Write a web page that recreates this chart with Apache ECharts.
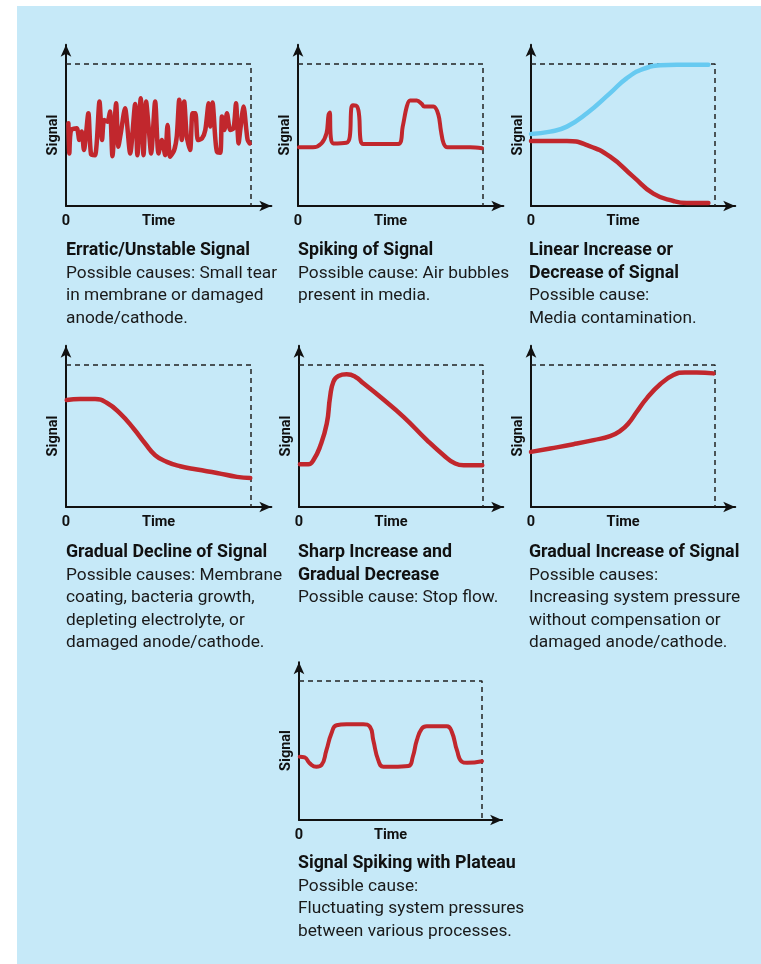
<!DOCTYPE html>
<html><head><meta charset="utf-8">
<script src="https://cdn.jsdelivr.net/npm/echarts@6/dist/echarts.min.js"></script>
<style>html,body{margin:0;padding:0;background:#fff}#c{width:761px;height:964px}</style>
</head><body><div id="c"></div>
<script>
// ---------- DATA ----------
const erraticSignal = [[1.3,58.3],[1.8,37.0],[2.7,53.5],[5.8,54.7],[7.2,46.5],[8.5,52.4],[9.7,39.4],[12.1,65.3],[13.5,36.6],[15.7,35.8],[18.1,73.6],[19.5,46.5],[20.6,60.6],[22.4,59.4],[23.8,66.5],[25.1,35.1],[27.1,72.4],[28.3,41.7],[29.6,51.2],[31.9,68.9],[34.7,37.0],[37.4,71.9],[38.6,35.8],[40.4,75.9],[41.9,35.8],[43.3,73.6],[44.8,53.5],[46.0,37.0],[48.2,73.6],[50.0,37.0],[51.8,46.5],[53.6,35.8],[54.9,57.1],[56.3,34.7],[58.5,39.4],[59.9,49.3],[61.2,74.8],[62.6,46.5],[63.9,73.6],[65.3,48.8],[67.1,39.4],[68.4,65.3],[69.9,65.3],[71.3,46.5],[73.5,47.6],[75.3,53.5],[77.1,72.4],[78.0,55.9],[79.2,72.9],[80.7,47.6],[81.6,38.2],[83.4,37.5],[84.3,63.0],[85.6,53.5],[87.0,65.3],[88.8,53.5],[90.6,54.7],[91.9,72.4],[93.3,44.1],[94.2,53.5],[96.0,70.0],[97.5,53.5],[98.2,46.5],[99.3,44.1]];
const spikingSignal = [[0.5,41.3],[8.1,41.3],[12.7,44.1],[15.4,51.2],[16.5,64.2],[17.2,65.8],[17.7,48.8],[19.0,44.1],[26.2,44.6],[28.0,48.8],[28.8,68.9],[29.8,71.0],[32.0,70.0],[33.1,63.0],[33.8,46.5],[35.3,43.6],[54.2,43.6],[56.6,55.9],[58.8,70.0],[60.6,74.3],[64.2,74.3],[66.9,71.9],[68.2,70.0],[73.2,70.0],[75.9,64.2],[77.2,53.5],[78.7,44.1],[80.8,41.3],[93.1,41.3],[99.5,40.6]];
const linearIncrease = [[0,50.7],[10.5,52.4],[19.5,55.9],[30.4,65.3],[43.0,79.5],[52.1,90.1],[61.1,96.5],[70.2,99.1],[79.2,99.5],[96.4,99.5]];
const linearDecrease = [[0,45.8],[19.5,45.8],[30.4,42.9],[43.0,34.7],[55.7,20.5],[66.5,8.7],[77.4,3.5],[84.6,2.1],[96.4,2.1]];
const gradualDecline = [[0.4,75.3],[7.6,76.0],[15.7,76.0],[22.0,73.4],[29.2,65.9],[36.5,55.3],[42.8,44.7],[48.2,36.5],[54.5,31.8],[61.7,28.7],[70.8,26.4],[81.6,24.0],[92.4,21.2],[99.6,20.5]];
const sharpIncrease = [[0.5,30.1],[5.1,30.1],[7.8,32.9],[11.4,42.4],[15.1,58.8],[16.9,77.6],[18.7,88.2],[21.4,92.2],[25.9,93.4],[30.5,91.8],[35.0,87.1],[44.1,77.6],[56.8,63.5],[69.5,47.1],[78.6,36.5],[84.9,30.6],[89.5,29.4],[99.6,29.4]];
const gradualIncrease = [[0,38.8],[10.5,41.2],[23.1,44.2],[34.0,47.1],[43.0,49.9],[48.5,53.6],[52.9,58.8],[57.5,67.1],[62.9,76.5],[70.2,86.4],[77.4,92.9],[83.7,94.8],[90.1,94.8],[99.1,94.1]];
const plateauSignal = [[0.4,45.5],[3.1,45.0],[5.9,40.7],[9.5,38.3],[12.3,39.5],[15.0,50.2],[17.7,62.2],[20.5,68.2],[26.0,68.9],[35.1,68.9],[38.8,67.0],[40.6,57.4],[43.3,43.1],[46.1,38.3],[51.6,38.3],[59.8,38.8],[62.2,45.5],[64.4,57.4],[67.1,65.8],[69.8,67.5],[80.8,67.5],[83.5,63.4],[86.3,50.2],[89.0,41.9],[91.8,41.1],[100,42.3]];
const frameLine = [[0,100],[100,100],[100,0]];

const axisLabelsX = ['0','Time'];
const axisLabelValuesX = [0, 50];
const axisLabelY = 'Signal';
const axisLabelValueY = 50;

const titles = [
  ['Erratic/Unstable Signal'],
  ['Spiking of Signal'],
  ['Linear Increase or','Decrease of Signal'],
  ['Gradual Decline of Signal'],
  ['Sharp Increase and','Gradual Decrease'],
  ['Gradual Increase of Signal'],
  ['Signal Spiking with Plateau']
];
const descriptions = [
  ['Possible causes: Small tear','in membrane or damaged','anode/cathode.'],
  ['Possible cause: Air bubbles','present in media.'],
  ['Possible cause:','Media contamination.'],
  ['Possible causes: Membrane','coating, bacteria growth,','depleting electrolyte, or','damaged anode/cathode.'],
  ['Possible cause: Stop flow.'],
  ['Possible causes:','Increasing system pressure','without compensation or','damaged anode/cathode.'],
  ['Possible cause:','Fluctuating system pressures','between various processes.']
];

// ---------- LAYOUT ----------
const RED = '#C1272D', BLUE = '#67CAF1', BG = '#C6E9F8';
const xMax = 111, yMax = 113.5;
// dashed box: left, top, width, height (pixels)
const boxes = [
  [66,64,185,142],[298,64,185,142],[531,64,184,142],
  [66,365,185,142],[299,365,184,142],[531,365,184,142],
  [299,681,183,139]
];
const textPos = [
  [66,242],[298,242],[529,242],
  [66,544],[298,544],[529,544],
  [298,855]
];
const seriesPerChart = [
  [[erraticSignal, RED, 4.5, 0.25]],
  [[spikingSignal, RED, 4, 0.35]],
  [[linearIncrease, BLUE, 4.5, 0.5],[linearDecrease, RED, 4.5, 0.5]],
  [[gradualDecline, RED, 4.5, 0.5]],
  [[sharpIncrease, RED, 4.5, 0.5]],
  [[gradualIncrease, RED, 4.5, 0.5]],
  [[plateauSignal, RED, 4, 0.5]]
];

const FONT = 'Roboto';
const grid = [], xAxis = [], yAxis = [], series = [], graphic = [];
graphic.push({type:'rect', shape:{x:17,y:6,width:744,height:958}, style:{fill:BG}, z:-10, silent:true});

boxes.forEach((b, i) => {
  grid.push({
    left: b[0], top: b[1] - b[3]*(yMax-100)/100,
    width: b[2]*xMax/100, height: b[3]*yMax/100,
    outerBoundsMode: 'none'
  });
  const axisLine = {show:true, lineStyle:{color:'#111', width:2}, symbol:['none','arrow'], symbolSize:[8,12]};
  xAxis.push({
    type:'value', gridIndex:i, min:0, max:xMax,
    axisLine, axisTick:{show:false}, splitLine:{show:false},
    axisLabel:{
      customValues: axisLabelValuesX,
      formatter: v => axisLabelsX[axisLabelValuesX.indexOf(v)],
      fontFamily: FONT, fontWeight:'bold', fontSize:14.5, color:'#111', margin:8
    }
  });
  yAxis.push({
    type:'value', gridIndex:i, min:0, max:yMax,
    axisLine, axisTick:{show:false}, splitLine:{show:false},
    axisLabel:{
      customValues:[axisLabelValueY], formatter: () => axisLabelY, rotate:90,
      fontFamily: FONT, fontWeight:'bold', fontSize:14.5, color:'#111', margin:5
    }
  });
  series.push({
    type:'line', xAxisIndex:i, yAxisIndex:i, data:frameLine, symbol:'none', silent:true,
    lineStyle:{color:'#222', width:1.5, type:[5,4]}, z:1
  });
  seriesPerChart[i].forEach(s => {
    series.push({
      type:'line', xAxisIndex:i, yAxisIndex:i, data:s[0], symbol:'none', smooth:s[3], silent:true,
      lineStyle:{color:s[1], width:s[2], cap:'round', join:'round'}, z:3
    });
  });
  const txt = titles[i].map(t => '{b|' + t + '}').concat(descriptions[i].map(t => '{r|' + t + '}')).join('\n');
  graphic.push({
    type:'text', left:textPos[i][0], top:textPos[i][1], silent:true,
    style:{
      text: txt, fill:'#111',
      rich:{
        b:{fontFamily:FONT, fontWeight:'bold', fontSize:17.8, lineHeight:22.5, fill:'#111'},
        r:{fontFamily:FONT, fontSize:17.3, lineHeight:22.5, fill:'#1a1a1a'}
      }
    }
  });
});

const chart = echarts.init(document.getElementById('c'), null, {renderer:'canvas'});
chart.setOption({animation:false, backgroundColor:'#fff', grid, xAxis, yAxis, series, graphic});
</script></body></html>
